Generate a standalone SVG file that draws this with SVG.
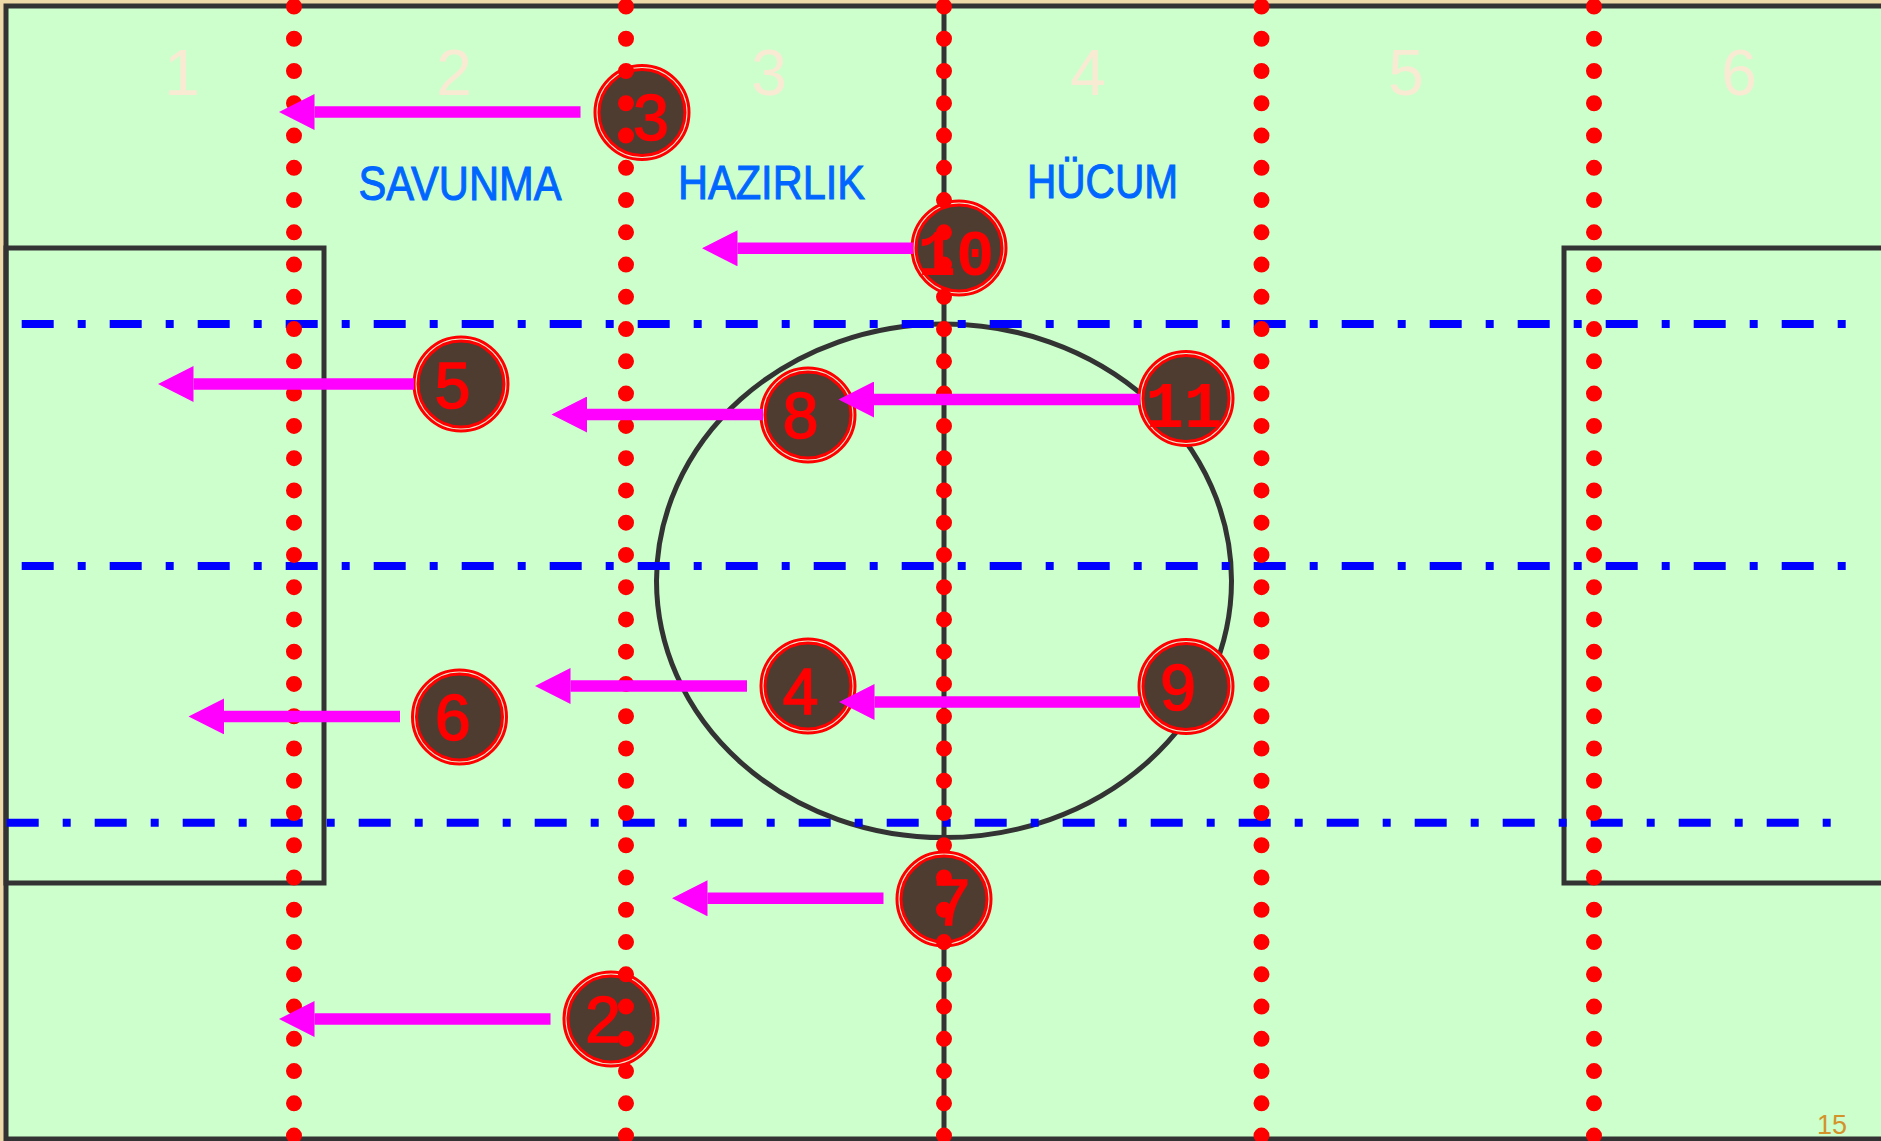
<svg xmlns="http://www.w3.org/2000/svg" width="1881" height="1141" viewBox="0 0 1881 1141">
<style>
.zone{font-family:"Liberation Sans",Arial,sans-serif;font-size:64px;fill:#F9EBD3;text-anchor:middle}
.phase{font-family:"Liberation Sans",Arial,sans-serif;font-size:47.5px;fill:#0066FF;stroke:#0066FF;stroke-width:1}
.line{stroke:#333333;stroke-width:5;fill:none}
.blue{stroke:#0000FF;stroke-width:8;stroke-dasharray:32 24 8 24;fill:none}
.dots{stroke:#FF0000;stroke-width:16;stroke-linecap:round;stroke-dasharray:0 32.26;fill:none}
.ring{fill:#ECE6CC;stroke:#FF0000;stroke-width:3}
.disc{fill:#4E3C30;stroke:#FF0000;stroke-width:3}
.num{font-family:"Liberation Sans",Arial,sans-serif;font-size:64px;fill:#FF0000;stroke:#FF0000;stroke-width:1.6;text-anchor:middle}
.num2{font-family:"Liberation Mono","DejaVu Sans Mono",monospace;font-size:64px;font-weight:bold;fill:#FF0000;text-anchor:middle}
.arrow{stroke:#FF00FF;stroke-width:11.5;fill:none;marker-end:url(#head)}
</style>
<defs>
<marker id="head" markerUnits="userSpaceOnUse" viewBox="0 0 36 36" markerWidth="36" markerHeight="36" refX="0" refY="18" orient="auto">
<path d="M0,0 L35.5,18 L0,36 z" fill="#FF00FF"/>
</marker>
</defs>
<rect x="0" y="0" width="1881" height="1141" fill="#EED9A8"/>
<g id="field">
<rect x="6" y="6" width="1878" height="1133" fill="#CCFFCC"/>
<text x="1817" y="1134" font-family="Liberation Sans, Arial, sans-serif" font-size="27" fill="#D4922A">15</text>
<rect x="6" y="6" width="1878" height="1133" class="line"/>
<rect id="box-left" x="6" y="248" width="318" height="635" class="line"/>
<rect id="box-right" x="1564" y="248" width="330" height="635" class="line"/>
<ellipse id="center-circle" cx="944" cy="580.8" rx="287.5" ry="256.8" class="line"/>
<line id="center-line" x1="944" y1="6" x2="944" y2="1139" class="line"/>
</g>
<g id="zones">
<text class="zone" x="182" y="95">1</text>
<text class="zone" x="454" y="95">2</text>
<text class="zone" x="769" y="95">3</text>
<text class="zone" x="1088" y="95">4</text>
<text class="zone" x="1406" y="95">5</text>
<text class="zone" x="1739" y="95">6</text>
</g>
<g id="phases">
<text class="phase" x="358.5" y="200" textLength="203" lengthAdjust="spacingAndGlyphs">SAVUNMA</text>
<text class="phase" x="678" y="199" textLength="187" lengthAdjust="spacingAndGlyphs">HAZIRLIK</text>
<text class="phase" x="1027" y="198" textLength="151" lengthAdjust="spacingAndGlyphs">HÜCUM</text>
</g>
<g id="lanes">
<line class="blue" x1="21.7" y1="324" x2="1846" y2="324"/>
<line class="blue" x1="21.7" y1="566" x2="1846" y2="566"/>
<line class="blue" x1="6.7" y1="822.7" x2="1831" y2="822.7"/>
</g>
<g id="p3"><circle class="ring" cx="642" cy="112.5" r="47"/><circle class="disc" cx="642" cy="112.5" r="43"/><text class="num" x="651" y="140">3</text></g>
<g id="p10"><circle class="ring" cx="959" cy="248" r="47"/><circle class="disc" cx="959" cy="248" r="43"/><text class="num2" x="956" y="275">10</text></g>
<g id="p5"><circle class="ring" cx="461" cy="384" r="47"/><circle class="disc" cx="461" cy="384" r="43"/><text class="num" x="452.5" y="408">5</text></g>
<g id="p8"><circle class="ring" cx="808" cy="415" r="47"/><circle class="disc" cx="808" cy="415" r="43"/><text class="num" x="800.5" y="438">8</text></g>
<g id="p11"><circle class="ring" cx="1186" cy="398.5" r="47"/><circle class="disc" cx="1186" cy="398.5" r="43"/><text class="num2" x="1184" y="427">11</text></g>
<g id="p4"><circle class="ring" cx="808" cy="686" r="47"/><circle class="disc" cx="808" cy="686" r="43"/><text class="num" x="800.5" y="714">4</text></g>
<g id="p6"><circle class="ring" cx="459.5" cy="717" r="47"/><circle class="disc" cx="459.5" cy="717" r="43"/><text class="num" x="452.8" y="740">6</text></g>
<g id="p9"><circle class="ring" cx="1186" cy="686.5" r="47"/><circle class="disc" cx="1186" cy="686.5" r="43"/><text class="num" x="1178" y="710">9</text></g>
<g id="p7"><circle class="ring" cx="944" cy="899" r="47"/><circle class="disc" cx="944" cy="899" r="43"/><text class="num" x="952" y="925">7</text></g>
<g id="p2"><circle class="ring" cx="611" cy="1019" r="47"/><circle class="disc" cx="611" cy="1019" r="43"/><text class="num" x="603" y="1042">2</text></g>
<g id="zone-lines">
<line class="dots" x1="294" y1="6.5" x2="294" y2="1145"/>
<line class="dots" x1="626" y1="6.5" x2="626" y2="1145"/>
<line class="dots" x1="944" y1="6.5" x2="944" y2="1145"/>
<line class="dots" x1="1261.5" y1="6.5" x2="1261.5" y2="1145"/>
<line class="dots" x1="1594" y1="6.5" x2="1594" y2="1145"/>
</g>
<g id="connectors">
<line class="arrow" x1="580.5" y1="112" x2="314.5" y2="112"/>
<line class="arrow" x1="913" y1="248.3" x2="737.5" y2="248.3"/>
<line class="arrow" x1="414" y1="384" x2="193.5" y2="384"/>
<line class="arrow" x1="763" y1="414.5" x2="587" y2="414.5"/>
<line class="arrow" x1="1140" y1="399.5" x2="874" y2="399.5"/>
<line class="arrow" x1="747" y1="686" x2="570.5" y2="686"/>
<line class="arrow" x1="400" y1="716.4" x2="224" y2="716.4"/>
<line class="arrow" x1="1140" y1="702" x2="874.5" y2="702"/>
<line class="arrow" x1="883.5" y1="898.3" x2="707.5" y2="898.3"/>
<line class="arrow" x1="550.5" y1="1019" x2="314.5" y2="1019"/>
</g>
</svg>
